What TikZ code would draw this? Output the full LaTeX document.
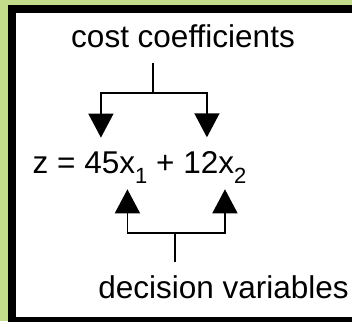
\documentclass[tikz,border=0pt]{standalone}
\usepackage{fontspec}
\setmainfont{Liberation Sans}
\usetikzlibrary{arrows.meta, positioning, calc}
\definecolor{leafgreen}{RGB}{195, 220, 140}
\newcommand{\low}[1]{\raisebox{-10pt}{\fontsize{22}{24}\selectfont #1}}

\begin{document}
\begin{tikzpicture}[x=1pt, y=-1pt, >={Triangle[width=25pt, length=24pt]}, font=\fontsize{31.5}{36}\selectfont,
    every node/.style={inner sep=0pt, outer sep=0pt},
    fork/.style={line width=1.6pt}]
  \useasboundingbox (0,0) rectangle (352,321);
  \clip (0,0) rectangle (352,321);
  \fill[leafgreen] (0,0) rectangle (352,321);
  \fill[black] (8,5) rectangle (370,340);
  \fill[white] (16,13) rectangle (370,316.5);
  % labels and the objective
  \node[anchor=base] (cost) at (183,47) {cost coefficients};
  \node[anchor=base west] (lhs) at (32.7,173.3) {z =};
  \node[base right=8.8pt of lhs] (coefA) {45};
  \node[base right=0pt of coefA] (varA) {x\low{1}};
  \node[base right=8.8pt of varA] (plus) {+};
  \node[base right=8.8pt of plus] (coefB) {12};
  \node[base right=0pt of coefB] (varB) {x\low{2}};
  \node[anchor=base] (dec) at (223.5,298) {decision variables};
  % forks
  \coordinate (topfork) at (153,93);
  \coordinate (lowfork) at (175,233);
  \draw[fork, shorten >=16pt] (topfork) -- (topfork |- cost.south);
  \draw[fork, ->] (topfork) -| ([xshift=-1pt, yshift=14pt]coefA.north);
  \draw[fork, ->] (topfork) -| ([xshift=6pt, yshift=14pt]coefB.north);
  \draw[fork, shorten >=13pt] (lowfork) -- (lowfork |- dec.north);
  \draw[fork, ->] (lowfork) -| ([xshift=-6pt, yshift=-6pt]varA.south);
  \draw[fork, ->] (lowfork) -| ([xshift=-7.5pt, yshift=-6pt]varB.south);
\end{tikzpicture}
\end{document}
